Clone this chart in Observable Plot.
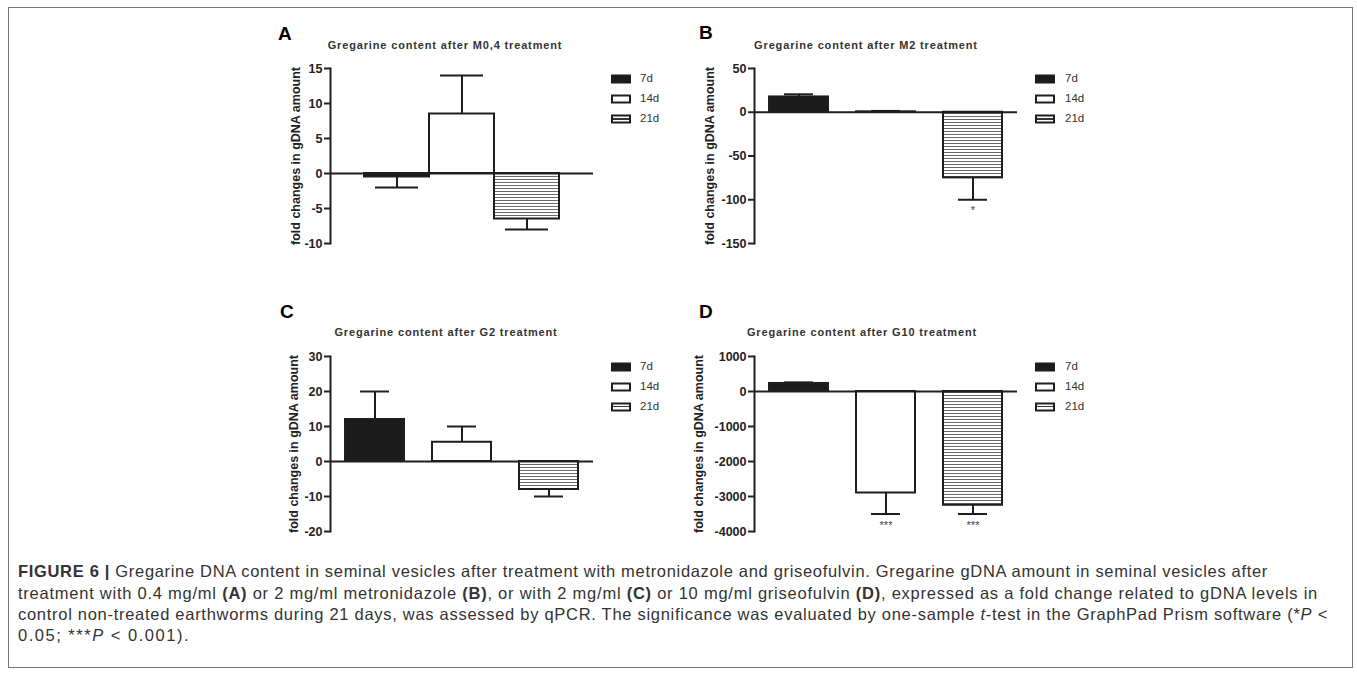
<!DOCTYPE html>
<html><head><meta charset="utf-8">
<script src="https://cdn.jsdelivr.net/npm/d3@7"></script>
<script src="https://cdn.jsdelivr.net/npm/@observablehq/plot@0.6"></script>
<style>
body{margin:0;background:#fff;}
#root{position:relative;width:1357px;height:674px;overflow:hidden;font-family:"Liberation Sans",Arial,sans-serif;background:#fff;}
.frame{position:absolute;left:8px;top:7px;width:1343px;height:659px;border:1px solid #777;}
.letter{position:absolute;font-weight:bold;font-size:19px;color:#000;transform:translateY(-50%);line-height:1;}
.title{position:absolute;font-weight:bold;font-size:11px;letter-spacing:0.85px;color:#333;transform:translate(-50%,-50%);white-space:nowrap;line-height:1;}
.leg{position:absolute;font-size:11.5px;color:#333;transform:translateY(-50%);line-height:1;white-space:nowrap;}
.sw{position:absolute;width:20px;height:9px;box-sizing:border-box;transform:translateY(-50%);}
.cap{position:absolute;left:18px;font-size:16.5px;color:#333;white-space:nowrap;transform:translateY(-50%);line-height:1;}
.panel{position:absolute;}
</style></head>
<body><div id="root">
<svg width="0" height="0" style="position:absolute">
  <defs>
    <pattern id="hatch" patternUnits="userSpaceOnUse" width="6" height="3">
      <rect width="6" height="3" fill="#fff"/>
      <line x1="0" y1="1.5" x2="6" y2="1.5" stroke="#6a6a6a" stroke-width="1"/>
    </pattern>
  </defs>
</svg>
<div class="frame"></div>
</div>
<script>
// ---- data ----
const periods = ["7d", "14d", "21d"];
const panelLetters = ["A", "B", "C", "D"];
const panelTitles = [
  "Gregarine content after M0,4 treatment",
  "Gregarine content after M2 treatment",
  "Gregarine content after G2 treatment",
  "Gregarine content after G10 treatment"
];
const yLabel = "fold changes in gDNA amount";

const valuesA = [-0.5, 8.5, -6.5];
const errorsA = [-2, 14, -8];
const starsA = ["", "", ""];
const ticksA = [15, 10, 5, 0, -5, -10];

const valuesB = [17.5, 0.5, -75];
const errorsB = [20.5, 1.5, -100];
const starsB = ["", "", "*"];
const ticksB = [50, 0, -50, -100, -150];

const valuesC = [12, 5.5, -8];
const errorsC = [20, 10, -10];
const starsC = ["", "", ""];
const ticksC = [30, 20, 10, 0, -10, -20];

const valuesD = [230, -2900, -3250];
const errorsD = [260, -3500, -3500];
const starsD = ["", "***", "***"];
const ticksD = [1000, 0, -1000, -2000, -3000, -4000];

const captionLines = [
  '<b>FIGURE 6 |</b> Gregarine DNA content in seminal vesicles after treatment with metronidazole and griseofulvin. Gregarine gDNA amount in seminal vesicles after',
  'treatment with 0.4 mg/ml <b>(A)</b> or 2 mg/ml metronidazole <b>(B)</b>, or with 2 mg/ml <b>(C)</b> or 10 mg/ml griseofulvin <b>(D)</b>, expressed as a fold change related to gDNA levels in',
  'control non-treated earthworms during 21 days, was assessed by qPCR. The significance was evaluated by one-sample <i>t</i>-test in the GraphPad Prism software (*<i>P</i> &lt;',
  '0.05; ***<i>P</i> &lt; 0.001).'
];

// ---- layout ----
const fills = ["#1b1b1b", "#ffffff", "url(#hatch)"];
const panels = [
  {vals: valuesA, errs: errorsA, stars: starsA, ticks: ticksA, left: 250, top: 55, pi: 0, po: 0.5, capInset: 11, labelOffset: 39,
   letter: [278, 33], title: [445, 45], legend: [611, 640, 79]},
  {vals: valuesB, errs: errorsB, stars: starsB, ticks: ticksB, left: 674, top: 55, pi: 0.32, po: 0.16, capInset: 15, labelOffset: 49,
   letter: [699, 32], title: [866, 45], legend: [1035, 1065, 79]},
  {vals: valuesC, errs: errorsC, stars: starsC, ticks: ticksC, left: 250, top: 343, pi: 0.32, po: 0.16, capInset: 15, labelOffset: 41,
   letter: [280, 311], title: [446, 332], legend: [611, 640, 367]},
  {vals: valuesD, errs: errorsD, stars: starsD, ticks: ticksD, left: 674, top: 343, pi: 0.32, po: 0.16, capInset: 15, labelOffset: 60,
   letter: [699, 311], title: [862, 332], legend: [1035, 1065, 367]}
];

const root = document.getElementById("root");
function add(cls, x, y, html) {
  const d = document.createElement("div");
  d.className = cls;
  d.style.left = x + "px";
  d.style.top = y + "px";
  d.innerHTML = html;
  root.appendChild(d);
  return d;
}

panels.forEach((p, k) => {
  const data = periods.map((per, i) => ({period: per, value: p.vals[i], err: p.errs[i], star: p.stars[i]}));
  const ymin = d3.min(p.ticks), ymax = d3.max(p.ticks);
  const chart = Plot.plot({
    width: 360, height: 200,
    marginLeft: 80, marginRight: 17, marginTop: 13, marginBottom: 12,
    style: {fontFamily: "'Liberation Sans', Arial, sans-serif", fontSize: "12px", fontWeight: "bold", color: "#222", background: "transparent", overflow: "visible"},
    x: {domain: periods, paddingInner: p.pi, paddingOuter: p.po, axis: null},
    y: {domain: [ymin, ymax]},
    color: {domain: periods, range: fills},
    marks: [
      Plot.barY(data, {x: "period", y: "value", fill: "period", stroke: "#1e1e1e", strokeWidth: 2}),
      Plot.ruleY([0], {stroke: "#1e1e1e", strokeWidth: 2}),
      Plot.frame({anchor: "left", stroke: "#1e1e1e", strokeWidth: 2}),
      Plot.ruleX(data, {x: "period", y1: "value", y2: "err", stroke: "#1e1e1e", strokeWidth: 2}),
      Plot.tickY(data, {x: "period", y: "err", stroke: "#1e1e1e", strokeWidth: 2, insetLeft: p.capInset, insetRight: p.capInset}),
      Plot.text(data.filter(d => d.star), {x: "period", y: "err", text: "star", dy: 11, fontSize: 11, fill: "#444", fontWeight: "normal"}),
      Plot.axisY({ticks: p.ticks, tickFormat: d => String(d), tickSize: 6, tickPadding: 2, strokeWidth: 2,
        label: yLabel, labelAnchor: "center", labelArrow: "none", labelOffset: p.labelOffset, fontSize: 12.5, fontWeight: "bold"})
    ]
  });
  chart.classList.add("panel");
  chart.style.left = p.left + "px";
  chart.style.top = p.top + "px";
  // make the axis label slightly larger than tick labels? keep consistent size
  root.appendChild(chart);

  add("letter", p.letter[0], p.letter[1], panelLetters[k]);
  add("title", p.title[0], p.title[1], panelTitles[k]);
  const [sx, tx, ty] = p.legend;
  periods.forEach((per, i) => {
    const y = ty + i * 20;
    const sw = add("sw", sx, y, "");
    if (i === 0) { sw.style.background = "#1b1b1b"; }
    else if (i === 1) { sw.style.background = "#fff"; sw.style.border = "2px solid #1e1e1e"; }
    else { sw.style.background = "linear-gradient(#fff 0 35%, #333 35% 60%, #fff 60% 100%)"; sw.style.border = "2px solid #1e1e1e"; }
    add("leg", tx, y, per);
  });
});

// caption
const capY = [571, 593, 614, 635];
const capEnd = [1268, 1318, 1328, 190];
const capEls = captionLines.map((h, i) => add("cap", 18, capY[i], h));
function fitCaption() {
  capEls.forEach((el, i) => {
    el.style.letterSpacing = "0px";
    const w = el.getBoundingClientRect().width;
    const n = el.textContent.length;
    el.style.letterSpacing = ((capEnd[i] - 18 - w) / n) + "px";
  });
}
fitCaption();
if (document.fonts && document.fonts.ready) document.fonts.ready.then(fitCaption);
</script>
</body></html>
